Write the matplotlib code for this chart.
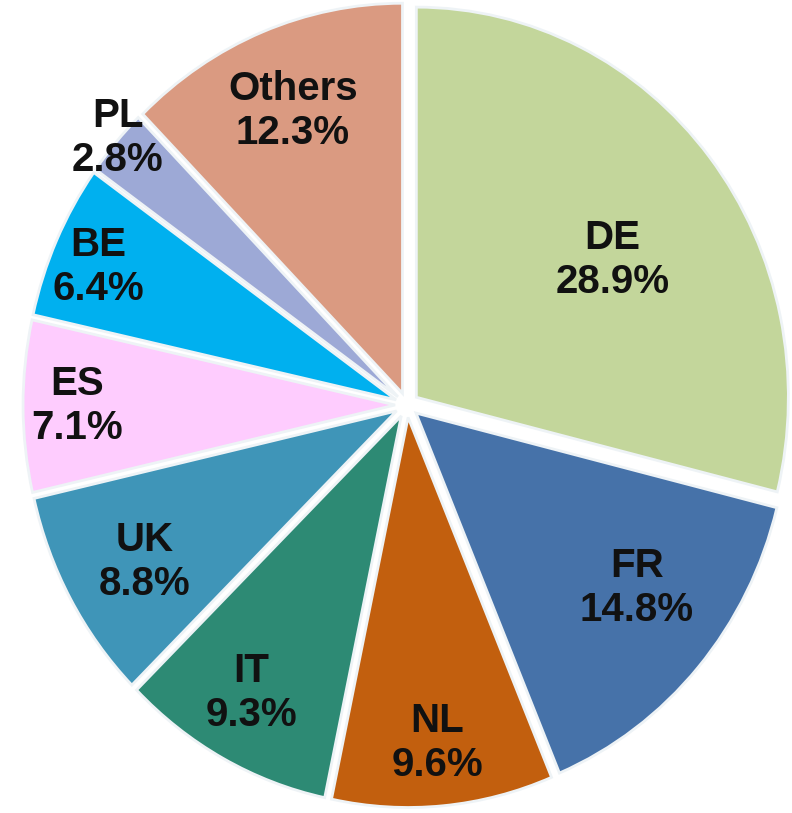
import matplotlib.pyplot as plt
import numpy as np

# data
countries = ['DE', 'FR', 'NL', 'IT', 'UK', 'ES', 'BE', 'PL', 'Others']
shares = [28.9, 14.8, 9.6, 9.3, 8.8, 7.1, 6.4, 2.8, 12.3]
colors = ['#C3D69B', '#4672A9', '#C25F0E', '#2D8A74', '#3F95B8',
          '#FECCFE', '#00B0EF', '#9DA9D6', '#DA9A81']

# label placement (distance from centre, angle tweak in degrees)
label_r = [0.667, 0.776, 0.871, 0.848, 0.812, 0.887, 0.903, 1.036, 0.814]
label_dang = [-4, 3.5, 0, -1, 1, 0, 1, -0.7, 0]

plt.rcParams['font.family'] = ['Liberation Sans', 'DejaVu Sans']

fig = plt.figure(figsize=(7.92, 8.13), dpi=100)
ax = fig.add_axes([0, 0, 1, 1])

wedges, _ = ax.pie(shares, colors=colors, startangle=90, counterclock=False,
                   explode=[0.032] * len(shares),
                   wedgeprops=dict(edgecolor='#EEF3F6', linewidth=2))

# picture is a bit taller than wide
ax.set_aspect('auto')
ax.set_xlim(-1.094, 1.035)
ax.set_ylim(-1.046, 1.038)
ax.axis('off')

for w, name, val, r, da in zip(wedges, countries, shares, label_r, label_dang):
    mid = np.deg2rad((w.theta1 + w.theta2) / 2 + da)
    ax.text(r * np.cos(mid), r * np.sin(mid), f'{name}\n{val:.1f}%',
            ha='center', va='center', fontsize=29, fontweight='bold',
            color='#111111', linespacing=1.2)

fig.savefig('out.png', dpi=100)
